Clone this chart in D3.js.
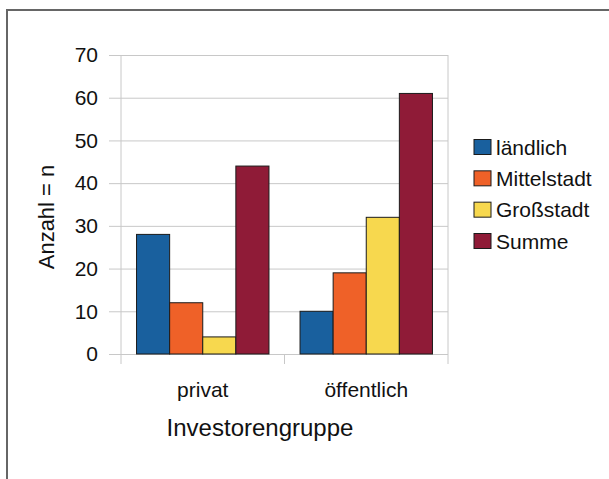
<!DOCTYPE html>
<html>
<head>
<meta charset="utf-8">
<script src="https://cdn.jsdelivr.net/npm/d3@7"></script>
<style>
  html, body { margin: 0; padding: 0; background: #fff; }
  svg { display: block; }
  text { font-family: "Liberation Sans", Arial, Helvetica, sans-serif; fill: #111; }
</style>
</head>
<body>
<svg id="chart" width="609" height="479"></svg>
<script>
// ---- data ----
const categories = ["privat", "öffentlich"];
const seriesNames = ["ländlich", "Mittelstadt", "Großstadt", "Summe"];
const laendlich   = [28, 10];
const mittelstadt = [12, 19];
const grossstadt  = [4, 32];
const summe       = [44, 61];
const seriesColors = ["#19609e", "#ef6128", "#f7d84e", "#8f1b37"];
const yTicks = [0, 10, 20, 30, 40, 50, 60, 70];
const yTitle = "Anzahl = n";
const xTitle = "Investorengruppe";

const seriesValues = [laendlich, mittelstadt, grossstadt, summe];

const svg = d3.select("#chart");

// frame border
svg.append("rect")
  .attr("x", 7).attr("y", 10)
  .attr("width", 700).attr("height", 600)
  .attr("fill", "none").attr("stroke", "#666").attr("stroke-width", 2);

const plotLeft = 121, plotRight = 448, plotTop = 55, plotBottom = 354;

const y = d3.scaleLinear().domain([0, 70]).range([plotBottom, plotTop]);
const x0 = d3.scaleBand().domain(categories).range([plotLeft, plotRight])
  .paddingInner(0.19).paddingOuter(0.095);
const x1 = d3.scaleBand().domain(seriesNames).range([0, x0.bandwidth()]).padding(0);

// gridlines + y ticks (extend left as tick marks)
const yAxis = d3.axisLeft(y).tickValues(yTicks).tickSize(12).tickPadding(11);
const gy = svg.append("g").attr("transform", `translate(${plotLeft},0)`).call(yAxis);
gy.select(".domain").remove();
gy.selectAll(".tick line").attr("stroke", "#c8c8c8").attr("x2", plotRight - plotLeft).attr("x1", -12);
gy.selectAll(".tick text").attr("font-size", 21).attr("fill", "#111")
  .style("font-family", '"Liberation Sans", Arial, sans-serif');

// vertical lines: y axis, right edge, category separators
const sepXs = [plotLeft, (x0.range()[0] + x0.range()[1]) / 2, plotRight];
svg.selectAll(".sep").data(sepXs).enter().append("line")
  .attr("x1", d => d).attr("x2", d => d)
  .attr("y1", (d, i) => i === 1 ? plotBottom : plotTop)
  .attr("y2", plotBottom + 10)
  .attr("stroke", "#c8c8c8").attr("stroke-width", 1);

// bars
const groups = svg.append("g").selectAll("g").data(categories).enter().append("g")
  .attr("transform", d => `translate(${x0(d)},0)`);
groups.selectAll("rect")
  .data((d, ci) => seriesNames.map((s, si) => ({ s, v: seriesValues[si][ci], c: seriesColors[si] })))
  .enter().append("rect")
  .attr("x", d => x1(d.s))
  .attr("width", x1.bandwidth())
  .attr("y", d => y(d.v))
  .attr("height", d => y(0) - y(d.v))
  .attr("fill", d => d.c)
  .attr("stroke", "#1b1b1b").attr("stroke-width", 1);

// x category labels
const xAxis = d3.axisBottom(x0).tickSize(0).tickPadding(0);
const gx = svg.append("g").attr("transform", `translate(0,${plotBottom})`).call(xAxis);
gx.select(".domain").remove();
gx.selectAll(".tick text").attr("font-size", 21).attr("fill", "#111")
  .attr("dy", null).attr("y", 43)
  .style("font-family", '"Liberation Sans", Arial, sans-serif');

// axis titles
svg.append("text").text(xTitle)
  .attr("x", 260).attr("y", 436)
  .attr("text-anchor", "middle").attr("font-size", 24);
svg.append("text").text(yTitle)
  .attr("transform", "translate(54,217) rotate(-90)")
  .attr("text-anchor", "middle").attr("font-size", 22);

// legend
const legend = svg.append("g");
const legY = d3.scaleLinear().domain([0, seriesNames.length - 1]).range([147, 241]);
seriesNames.forEach((s, i) => {
  legend.append("rect")
    .attr("x", 474).attr("y", legY(i) - 7.5)
    .attr("width", 17).attr("height", 15)
    .attr("fill", seriesColors[i]).attr("stroke", "#1b1b1b").attr("stroke-width", 1);
  legend.append("text").text(s)
    .attr("x", 496).attr("y", legY(i) + 7.5)
    .attr("font-size", 21);
});
</script>
</body>
</html>
